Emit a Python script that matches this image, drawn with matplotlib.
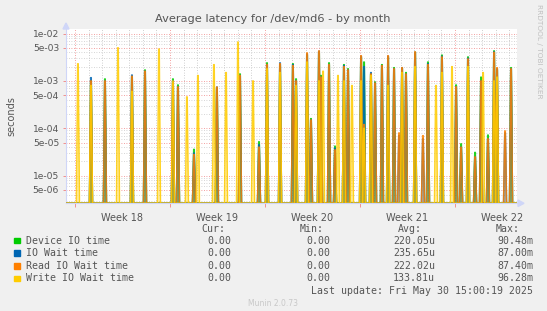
import numpy as np
import matplotlib
matplotlib.use("Agg")
import matplotlib.pyplot as plt
from matplotlib.ticker import FixedLocator, NullFormatter

# spike positions, in days since the start of Week 18
spike_day = [0.22, 1.18, 2.21, 3.17, 4.20, 5.16, 6.19, 7.22, 7.59, 8.25,
             8.77, 9.06, 10.24, 10.46, 11.13, 12.01, 12.16, 13.12, 13.56, 14.15,
             15.11, 16.06, 16.29, 17.10, 17.39, 17.98, 18.13, 18.28, 18.72, 19.16,
             19.38, 19.82, 20.12, 20.41, 21.08, 21.30, 21.81, 22.11, 22.62, 23.07,
             23.51, 23.88, 24.10, 24.39, 25.06, 25.64, 26.01, 26.60, 27.04, 27.78,
             28.08, 28.45, 28.96, 29.48, 29.92, 30.07, 30.43, 30.88, 31.10, 31.69,
             32.13]
device = [0, 1.0e-3, 1.1e-3, 0, 1.2e-3, 1.7e-3, 0, 1.1e-3, 8.2e-4, 0,
          3.6e-5, 0, 0, 7.0e-4, 0, 0, 1.4e-3, 0, 5.2e-5, 2.4e-3,
          2.2e-3, 2.3e-3, 1.1e-3, 3.5e-3, 1.6e-4, 4.0e-3, 1.3e-3, 0, 2.4e-3, 4.2e-5,
          0, 2.2e-3, 1.8e-3, 0, 3.2e-3, 2.5e-3, 1.4e-3, 9.5e-4, 2.2e-3, 3.2e-3,
          1.9e-3, 0, 1.8e-3, 1.5e-3, 4.0e-3, 0, 2.5e-3, 0, 3.5e-3, 0,
          8.2e-4, 4.7e-5, 3.2e-3, 3.1e-5, 1.2e-3, 0, 7.2e-5, 4.3e-3, 1.7e-3, 0,
          1.9e-3]
io_wait = [0, 1.17e-3, 1.0e-3, 0, 1.33e-3, 1.6e-3, 0, 1.0e-3, 7.5e-4, 0,
           3.0e-5, 0, 0, 7.4e-4, 0, 0, 1.3e-3, 0, 4.5e-5, 2.2e-3,
           2.4e-3, 2.2e-3, 1.0e-3, 3.7e-3, 1.5e-4, 4.2e-3, 1.2e-3, 0, 2.2e-3, 3.8e-5,
           0, 2.1e-3, 1.7e-3, 0, 3.3e-3, 2.0e-3, 1.5e-3, 9.0e-4, 2.1e-3, 3.3e-3,
           1.8e-3, 7.0e-5, 1.9e-3, 1.4e-3, 4.0e-3, 6.0e-5, 2.3e-3, 0, 3.3e-3, 0,
           7.5e-4, 4.0e-5, 3.0e-3, 2.5e-5, 1.0e-3, 0, 6.0e-5, 4.1e-3, 1.8e-3, 8.0e-5,
           1.8e-3]
read_wait = [0, 1.0e-3, 1.0e-3, 0, 1.25e-3, 1.6e-3, 0, 9.0e-4, 7.5e-4, 0,
             2.8e-5, 0, 0, 7.4e-4, 0, 0, 1.3e-3, 0, 4.0e-5, 2.2e-3,
             2.3e-3, 2.1e-3, 1.0e-3, 3.9e-3, 1.5e-4, 4.3e-3, 1.2e-3, 0, 2.2e-3, 3.5e-5,
             0, 2.0e-3, 1.7e-3, 0, 3.4e-3, 1.2e-4, 1.4e-3, 9.0e-4, 2.1e-3, 3.4e-3,
             1.8e-3, 8.0e-5, 1.9e-3, 1.4e-3, 4.1e-3, 7.0e-5, 2.2e-3, 0, 3.2e-3, 0,
             7.5e-4, 4.0e-5, 2.9e-3, 2.5e-5, 1.0e-3, 0, 6.0e-5, 4.0e-3, 1.9e-3, 8.8e-5,
             1.8e-3]
write_wait = [2.3e-3, 8.0e-4, 0, 5.0e-3, 6.0e-4, 0, 4.7e-3, 1.0e-3, 0, 4.6e-4,
              0, 1.3e-3, 2.2e-3, 0, 1.5e-3, 6.6e-3, 0, 1.0e-3, 0, 1.8e-3,
              1.5e-3, 0, 8.0e-4, 2.5e-3, 0, 1.0e-3, 0, 1.6e-3, 0, 0,
              1.3e-3, 1.0e-3, 0, 8.0e-4, 1.0e-3, 1.0e-4, 1.3e-3, 0, 0, 8.0e-4,
              0, 0, 1.5e-3, 0, 2.0e-3, 0, 0, 8.0e-4, 1.5e-3, 2.0e-3,
              0, 0, 2.0e-3, 0, 0, 1.5e-3, 0, 1.0e-3, 1.2e-3, 0,
              0]

series_names = ["Device IO time", "IO Wait time", "Read IO Wait time", "Write IO Wait time"]
series_colors = ["#00CC00", "#0066B3", "#FF8000", "#FFCC00"]
cur_vals = ["0.00", "0.00", "0.00", "0.00"]
min_vals = ["0.00", "0.00", "0.00", "0.00"]
avg_vals = ["220.05u", "235.65u", "222.02u", "133.81u"]
max_vals = ["90.48m", "87.00m", "87.40m", "96.28m"]
week_labels = ["Week 18", "Week 19", "Week 20", "Week 21", "Week 22"]

W, H = 547, 311
fig = plt.figure(figsize=(W / 100, H / 100), dpi=100, facecolor="#F0F0F0")
ax = fig.add_axes([66 / W, 1 - 203.3 / H, (517 - 66) / W, (203.3 - 29) / H])
ax.set_facecolor("white")

ymin, ymax = 2.62e-6, 1.245e-2
xmin, xmax = -0.66, 32.57
half = 0.11

def spikes(vals):
    xs, ys = [xmin], [ymin]
    for d, v in zip(spike_day, vals):
        if v <= 0:
            continue
        xs += [d - half, d - 0.02, d + 0.02, d + half]
        ys += [ymin, v, v, ymin]
    xs.append(xmax)
    ys.append(ymin)
    return xs, ys

ax.set_yscale("log")
ax.set_xlim(xmin, xmax)
ax.set_ylim(ymin, ymax)

# grid
for d in range(0, 33):
    if d % 7 == 0:
        ax.axvline(d, color="#F08080", lw=0.6, ls=(0, (1, 2)), zorder=1)
    else:
        ax.axvline(d, color="#C0C0C0", lw=0.6, ls=(0, (1, 2)), zorder=1)
for e in range(-6, -1):
    for m in range(1, 10):
        v = m * 10.0 ** e
        if v < ymin or v > ymax:
            continue
        if m in (1, 5):
            ax.axhline(v, color="#F08080", lw=0.6, ls=(0, (1, 2)), zorder=1)
        else:
            ax.axhline(v, color="#C8C8C8", lw=0.6, ls=(0, (1, 2)), zorder=1)

for vals, c in zip([device, io_wait, read_wait, write_wait], series_colors):
    xs, ys = spikes(vals)
    ax.fill_between(xs, ymin, ys, color=c, alpha=0.25, lw=0, zorder=2)
    ax.plot(xs, ys, color=c, lw=1.1, alpha=0.85, zorder=3)

# y ticks
yt = [1e-2, 5e-3, 1e-3, 5e-4, 1e-4, 5e-5, 1e-5, 5e-6]
ax.yaxis.set_major_locator(FixedLocator(yt))
ax.yaxis.set_minor_formatter(NullFormatter())
ax.yaxis.set_minor_locator(FixedLocator([]))
ax.set_yticklabels(["%.0e" % v for v in yt], fontsize=6.6, color="#555555")
ax.tick_params(axis="y", length=2, width=0.6, color="#F08080", pad=3)

ax.set_xticks([0, 7, 14, 21, 28])
ax.set_xticklabels([])
ax.tick_params(axis="x", length=3, width=0.6, color="#F08080", direction="out")
for i, lab in enumerate(week_labels):
    ax.text(3.5 + 7 * i, -0.055, lab, transform=ax.get_xaxis_transform(),
            ha="center", va="top", fontsize=7, color="#555555")

for s in ["top", "right"]:
    ax.spines[s].set_visible(False)
for s in ["left", "bottom"]:
    ax.spines[s].set_color("#CFD6F8")
    ax.spines[s].set_linewidth(0.8)

# axis arrows
fig.patches.append(plt.Polygon([[63 / W, 1 - 29 / H], [69 / W, 1 - 29 / H], [66 / W, 1 - 23 / H]],
                               closed=True, transform=fig.transFigure, color="#CFD6F8"))
fig.patches.append(plt.Polygon([[518 / W, 1 - 200 / H], [518 / W, 1 - 206.5 / H], [524 / W, 1 - 203.3 / H]],
                               closed=True, transform=fig.transFigure, color="#CFD6F8"))

fig.text(273 / W, 1 - 19 / H, "Average latency for /dev/md6 - by month",
         ha="center", va="center", fontsize=8.2, color="#555555")
fig.text(11 / W, 1 - 116 / H, "seconds", rotation=90, ha="center", va="center",
         fontsize=7, color="#555555")
fig.text(539 / W, 1 - 4 / H, "RRDTOOL / TOBI OETIKER", rotation=270, ha="center", va="top",
         fontsize=5.3, color="#C0C0C0")

mono = "DejaVu Sans Mono"
fs = 7.1
tc = "#555555"
fig.text(225 / W, 1 - 228.5 / H, "Cur:", ha="right", va="center", family=mono, fontsize=fs, color=tc)
fig.text(324 / W, 1 - 228.5 / H, "Min:", ha="right", va="center", family=mono, fontsize=fs, color=tc)
fig.text(422 / W, 1 - 228.5 / H, "Avg:", ha="right", va="center", family=mono, fontsize=fs, color=tc)
fig.text(520 / W, 1 - 228.5 / H, "Max:", ha="right", va="center", family=mono, fontsize=fs, color=tc)
for i in range(4):
    y = 1 - (240.5 + 12.6 * i) / H
    fig.patches.append(plt.Rectangle((14 / W, y - 2.8 / H), 5.6 / W, 5.6 / H,
                                     transform=fig.transFigure, color=series_colors[i]))
    fig.text(26 / W, y, series_names[i], ha="left", va="center", family=mono, fontsize=fs, color=tc)
    fig.text(231 / W, y, cur_vals[i], ha="right", va="center", family=mono, fontsize=fs, color=tc)
    fig.text(330 / W, y, min_vals[i], ha="right", va="center", family=mono, fontsize=fs, color=tc)
    fig.text(435 / W, y, avg_vals[i], ha="right", va="center", family=mono, fontsize=fs, color=tc)
    fig.text(533 / W, y, max_vals[i], ha="right", va="center", family=mono, fontsize=fs, color=tc)
fig.text(533 / W, 1 - 290.5 / H, "Last update: Fri May 30 15:00:19 2025", ha="right", va="center",
         family=mono, fontsize=fs, color=tc)
fig.text(273 / W, 1 - 304 / H, "Munin 2.0.73", ha="center", va="center", fontsize=5.5, color="#C8C8C8")

fig.savefig("out.png", dpi=100, facecolor=fig.get_facecolor())
